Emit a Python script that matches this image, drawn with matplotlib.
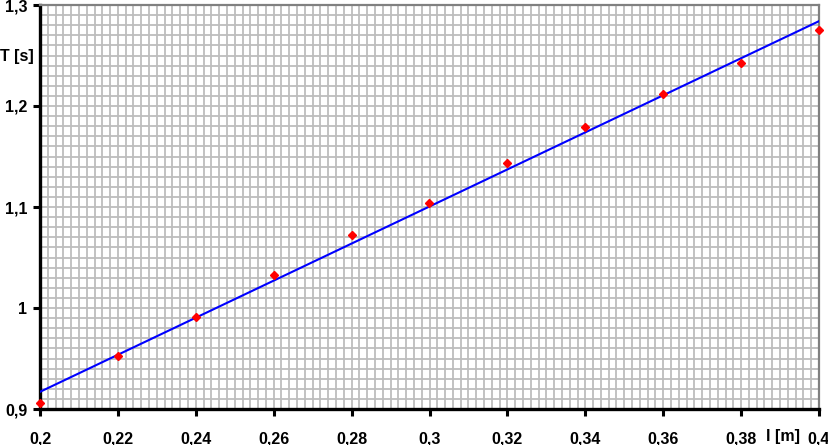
import numpy as np
import matplotlib.pyplot as plt
from matplotlib.ticker import FuncFormatter, MultipleLocator

# data
length_m = [0.20, 0.22, 0.24, 0.26, 0.28, 0.30, 0.32, 0.34, 0.36, 0.38, 0.40]
period_s = [0.906, 0.952, 0.991, 1.033, 1.072, 1.104, 1.144, 1.179, 1.212, 1.243, 1.275]
fit_x = [0.20, 0.40]
fit_y = [0.917, 1.284]

plt.rcParams['font.family'] = ['Liberation Sans', 'DejaVu Sans']

def comma(v, pos):
    return ('%g' % round(v, 4)).replace('.', ',')

fig = plt.figure(figsize=(8.29, 4.45), dpi=100)
ax = fig.add_axes([40 / 829, 36 / 445, 779 / 829, 404 / 445])

ax.plot(fit_x, fit_y, color='#0000ff', linewidth=1.5, zorder=3)
ax.plot(length_m, period_s, linestyle='none', marker='D', markersize=4.5,
        color='#ff0000', zorder=4, clip_on=False)

ax.set_xlim(0.2, 0.4)
ax.set_ylim(0.9, 1.3)
ax.xaxis.set_major_locator(MultipleLocator(0.02))
ax.yaxis.set_major_locator(MultipleLocator(0.1))
ax.xaxis.set_minor_locator(MultipleLocator(0.002))
ax.yaxis.set_minor_locator(MultipleLocator(0.01))
ax.xaxis.set_major_formatter(FuncFormatter(comma))
ax.yaxis.set_major_formatter(FuncFormatter(comma))

ax.grid(which='both', color='#bdbdbd', linewidth=1.3)
ax.set_axisbelow(True)
ax.tick_params(which='minor', length=0)
ax.tick_params(which='major', length=5, width=2.2, color='black',
               labelsize=11.5)
ax.tick_params(axis='x', pad=11)
ax.tick_params(axis='y', pad=4)
for lbl in ax.get_xticklabels() + ax.get_yticklabels():
    lbl.set_fontweight('bold')

for s in ('left', 'bottom'):
    ax.spines[s].set_color('black')
    ax.spines[s].set_linewidth(2.4)
for s in ('top', 'right'):
    ax.spines[s].set_color('#808080')
    ax.spines[s].set_linewidth(1.6)

fig.text(17 / 829, 1 - 57 / 445, 'T [s]', ha='center', va='center',
         fontsize=11.5, fontweight='bold')
fig.text(783 / 829, 1 - 437 / 445, 'l [m]', ha='center', va='center',
         fontsize=11.5, fontweight='bold')

plt.savefig('out.png', dpi=100)
